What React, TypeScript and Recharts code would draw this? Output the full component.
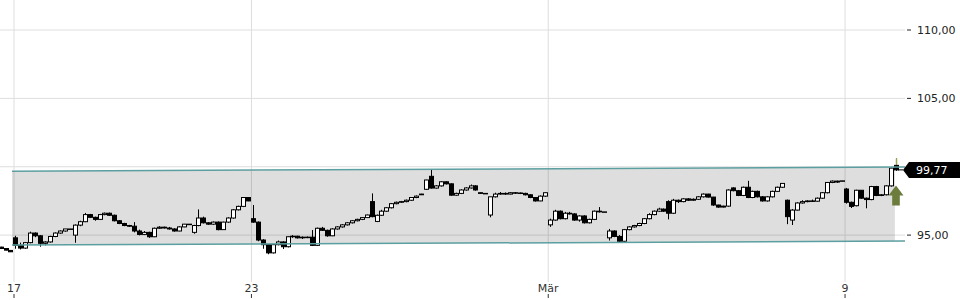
import React from 'react'
import {
  ComposedChart,
  Bar,
  Line,
  Area,
  XAxis,
  YAxis,
  CartesianGrid,
  ReferenceLine,
  ReferenceDot,
} from 'recharts'

// candles per trading day: [open, high, low, close], 12 slots a day
const feb16 = [
  [94.12, 94.15, 94.0, 94.02], [94.02, 94.05, 93.88, 93.9], [93.88, 93.88, 93.78, 93.78],
]
const feb17 = [
  [94.8, 94.95, 94.0, 94.25], [94.25, 94.45, 93.95, 94.05], [94.05, 94.5, 94.0, 94.45],
  [94.45, 95.25, 94.4, 95.15], [95.15, 95.2, 94.85, 94.95], [94.95, 95.0, 94.15, 94.4],
  [94.4, 94.55, 94.25, 94.5], [94.5, 94.95, 94.45, 94.9], [94.9, 95.2, 94.85, 95.15],
  [95.15, 95.35, 95.1, 95.3], [95.3, 95.45, 95.25, 95.45], [95.45, 95.45, 95.45, 95.45],
]
const feb18 = [
  [95.0, 95.78, 94.44, 95.73], [95.73, 96.05, 95.65, 95.98], [95.98, 96.62, 95.95, 96.5],
  [96.5, 96.55, 96.25, 96.3], [96.3, 96.35, 96.05, 96.15], [96.15, 96.55, 96.1, 96.5],
  [96.5, 96.65, 96.45, 96.6], [96.6, 96.65, 96.4, 96.45], [96.45, 96.5, 96.0, 96.05],
  [96.05, 96.1, 95.8, 95.85], [95.85, 95.9, 95.65, 95.7], [95.7, 95.75, 95.6, 95.65],
]
const feb19 = [
  [95.65, 95.95, 95.2, 95.3], [95.3, 95.4, 94.98, 95.05], [95.05, 95.3, 95.0, 95.2],
  [95.2, 95.25, 94.8, 94.88], [94.88, 95.55, 94.85, 95.5], [95.5, 95.65, 95.45, 95.58],
  [95.58, 95.62, 95.48, 95.52], [95.52, 95.6, 95.4, 95.45], [95.45, 95.5, 95.25, 95.3],
  [95.3, 95.65, 95.28, 95.6], [95.6, 95.82, 95.58, 95.8], [95.8, 95.8, 95.8, 95.8],
]
const feb20 = [
  [95.2, 95.75, 95.1, 95.7], [95.7, 96.88, 95.65, 96.25], [96.25, 96.35, 95.85, 95.9],
  [95.9, 95.95, 95.75, 95.8], [95.8, 96.0, 95.75, 95.95], [95.95, 96.0, 95.35, 95.4],
  [95.4, 95.98, 95.38, 95.95], [95.95, 96.3, 95.9, 96.25], [96.25, 96.9, 96.2, 96.85],
  [96.85, 97.15, 96.8, 97.1], [97.1, 97.78, 97.05, 97.75], [97.75, 97.78, 97.48, 97.5],
]
const feb23 = [
  [96.2, 97.2, 95.9, 95.95], [95.95, 96.0, 94.55, 94.64], [94.64, 94.7, 94.0, 94.3],
  [94.3, 94.35, 93.6, 93.7], [93.7, 94.35, 93.65, 94.3], [94.3, 94.6, 94.25, 94.5],
  [94.5, 94.55, 93.98, 94.15], [94.15, 94.9, 94.1, 94.88], [94.88, 95.0, 94.8, 94.92],
  [94.92, 94.95, 94.75, 94.8], [94.8, 94.9, 94.72, 94.85], [94.85, 94.9, 94.78, 94.82],
]
const feb24 = [
  [94.85, 95.37, 94.2, 94.25], [94.25, 95.55, 94.2, 95.5], [95.5, 95.6, 95.3, 95.35],
  [95.35, 95.4, 94.88, 94.95], [94.95, 95.5, 94.92, 95.45], [95.45, 95.65, 95.4, 95.6],
  [95.6, 95.8, 95.55, 95.75], [95.75, 95.95, 95.7, 95.9], [95.9, 96.1, 95.85, 96.05],
  [96.05, 96.2, 96.0, 96.15], [96.15, 96.3, 96.1, 96.28], [96.28, 96.5, 96.25, 96.47],
]
const feb25 = [
  [97.45, 98.05, 96.3, 96.35], [96.0, 96.5, 95.95, 96.45], [96.45, 96.85, 96.4, 96.75],
  [96.75, 97.05, 96.7, 97.0], [97.0, 97.35, 96.95, 97.3], [97.3, 97.45, 97.25, 97.4],
  [97.4, 97.5, 97.35, 97.45], [97.45, 97.6, 97.4, 97.55], [97.55, 97.78, 97.5, 97.75],
  [97.75, 97.9, 97.7, 97.85], [97.95, 98.02, 97.95, 98.0], [98.35, 99.05, 98.3, 99.03],
]
const feb26 = [
  [99.3, 99.81, 98.4, 98.44], [98.44, 98.65, 98.4, 98.6], [98.6, 98.95, 98.55, 98.9],
  [98.9, 98.92, 98.7, 98.75], [98.75, 98.78, 97.88, 97.92], [97.92, 98.1, 97.88, 98.05],
  [98.05, 98.35, 98.0, 98.3], [98.3, 98.5, 98.25, 98.45], [98.45, 98.7, 98.4, 98.6],
  [98.6, 98.65, 98.25, 98.3], [98.1, 98.1, 98.05, 98.05], [98.05, 98.05, 98.05, 98.05],
]
const feb27 = [
  [96.47, 97.8, 96.3, 97.8], [97.8, 98.1, 97.75, 98.0], [98.0, 98.15, 97.95, 98.05],
  [98.05, 98.12, 97.95, 98.0], [98.0, 98.15, 97.98, 98.1], [98.1, 98.15, 98.02, 98.08],
  [98.08, 98.12, 98.0, 98.05], [98.05, 98.1, 97.9, 97.95], [97.95, 97.98, 97.7, 97.75],
  [97.75, 97.78, 97.45, 97.5], [97.5, 97.9, 97.48, 97.85], [97.85, 98.12, 97.8, 98.1],
]
const mar02 = [
  [95.75, 96.2, 95.6, 96.1], [96.1, 96.85, 96.05, 96.75], [96.75, 96.8, 96.15, 96.2],
  [96.2, 96.7, 96.15, 96.6], [96.6, 96.7, 96.5, 96.55], [96.55, 96.6, 96.05, 96.1],
  [96.1, 96.45, 95.98, 96.4], [96.4, 96.45, 95.85, 95.9], [95.9, 96.2, 95.85, 96.15],
  [96.15, 96.8, 96.1, 96.75], [96.75, 97.05, 96.65, 96.7], [96.7, 96.7, 96.7, 96.7],
]
const mar03 = [
  [94.8, 95.45, 94.6, 95.3], [95.3, 95.35, 94.85, 94.9], [94.9, 95.0, 94.5, 94.55],
  [94.55, 95.45, 94.5, 95.4], [95.4, 95.65, 95.35, 95.6], [95.6, 95.75, 95.55, 95.7],
  [95.7, 95.9, 95.65, 95.85], [95.85, 96.25, 95.8, 96.2], [96.2, 96.6, 96.15, 96.5],
  [96.5, 96.8, 96.45, 96.75], [96.75, 97.0, 96.7, 96.9], [96.9, 96.95, 96.7, 96.75],
]
const mar04 = [
  [97.45, 97.55, 96.15, 96.6], [96.6, 97.65, 96.55, 97.55], [97.55, 97.6, 97.35, 97.45],
  [97.45, 97.7, 97.4, 97.65], [97.65, 97.7, 97.5, 97.55], [97.55, 97.68, 97.5, 97.62],
  [97.62, 97.85, 97.58, 97.8], [97.8, 98.05, 97.75, 98.0], [98.0, 98.02, 97.75, 97.78],
  [97.78, 97.8, 97.15, 97.2], [97.2, 97.22, 97.0, 97.05], [97.05, 97.15, 97.02, 97.12],
]
const mar05 = [
  [97.12, 98.35, 97.08, 98.3], [98.45, 98.5, 98.2, 98.25], [98.25, 98.3, 97.85, 97.9],
  [97.9, 98.55, 97.85, 98.5], [98.5, 98.97, 97.7, 97.75], [97.75, 98.25, 97.7, 98.2],
  [98.2, 98.25, 97.75, 97.8], [97.8, 97.85, 97.45, 97.5], [97.5, 97.85, 97.45, 97.8],
  [97.8, 98.25, 97.75, 98.2], [98.2, 98.55, 98.15, 98.5], [98.5, 98.8, 98.45, 98.78],
]
const mar06 = [
  [97.55, 97.6, 95.8, 96.35], [96.1, 96.9, 95.74, 96.83], [96.83, 97.4, 96.8, 97.35],
  [97.35, 97.55, 97.3, 97.45], [97.45, 97.55, 97.4, 97.5], [97.5, 97.6, 97.42, 97.48],
  [97.48, 97.75, 97.45, 97.7], [97.7, 98.15, 97.65, 98.1], [98.1, 98.88, 98.05, 98.85],
  [98.85, 99.0, 98.8, 98.95], [98.95, 98.98, 98.82, 98.88], [98.95, 98.97, 98.95, 98.97],
]
const mar09 = [
  [98.37, 98.45, 97.3, 97.4], [97.4, 97.45, 96.98, 97.1], [97.15, 98.32, 97.1, 98.28],
  [98.28, 98.3, 97.65, 97.7], [97.7, 97.75, 96.96, 97.6], [97.6, 98.6, 97.55, 98.55],
  [98.55, 98.6, 97.85, 97.9], [97.9, 98.0, 97.85, 97.95], [97.95, 98.65, 97.9, 98.6],
  [98.6, 99.95, 98.55, 99.9], [100.1, 100.6, 99.7, 99.77],
]

// trading day index (0 = 17 Feb) and first slot used that day
const days = [
  { day: -1, start: 9, candles: feb16 },
  { day: 0, start: 0, candles: feb17 },
  { day: 1, start: 0, candles: feb18 },
  { day: 2, start: 0, candles: feb19 },
  { day: 3, start: 0, candles: feb20 },
  { day: 4, start: 0, candles: feb23 },
  { day: 5, start: 0, candles: feb24 },
  { day: 6, start: 0, candles: feb25 },
  { day: 7, start: 0, candles: feb26 },
  { day: 8, start: 0, candles: feb27 },
  { day: 9, start: 0, candles: mar02 },
  { day: 10, start: 0, candles: mar03 },
  { day: 11, start: 0, candles: mar04 },
  { day: 12, start: 0, candles: mar05 },
  { day: 13, start: 0, candles: mar06 },
  { day: 14, start: 0, candles: mar09 },
]
const slotsPerDay = 12

const dayTicks = [0, 4, 9, 14]
const dayLabels = ['17', '23', 'Mär', '9']
const priceTicks = [95, 100, 105, 110]

// trend channel: [t, lower, upper]
const channelStart = [-0.034, 94.27, 99.67]
const channelFillEnd = [14.84, 94.55, 99.97]
const channelLineEnd = [15.01, 94.56, 99.98]

const lastPrice = 99.77
const signalPrice = 98.62

const candleRows = days.flatMap(d =>
  d.candles.map((c, i) => ({
    t: d.day + (d.start + i + 0.3) / slotsPerDay,
    range: [c[2], c[1]],
    open: c[0],
    close: c[3],
  }))
)
const lastT = candleRows[candleRows.length - 1].t

const data = [
  { t: channelStart[0], band: [channelStart[1], channelStart[2]], lower: channelStart[1], upper: channelStart[2] },
  ...candleRows,
  { t: channelFillEnd[0], band: [channelFillEnd[1], channelFillEnd[2]] },
  { t: channelLineEnd[0], lower: channelLineEnd[1], upper: channelLineEnd[2] },
].sort((a, b) => a.t - b.t)

const font = '"DejaVu Sans", sans-serif'

function Candle(props: any) {
  const { x, y, width, height, payload } = props
  if (!payload || !payload.range || x == null) return null
  const [lo, hi] = payload.range
  const top = Math.min(y, y + height)
  const h = Math.abs(height)
  const cx = Math.round(x + width / 2) + 0.5
  const toPx = (v: number) => (hi === lo ? top : top + ((hi - v) / (hi - lo)) * h)
  const o = toPx(payload.open)
  const c = toPx(payload.close)
  const up = payload.close >= payload.open
  const bTop = Math.min(o, c)
  const bH = Math.max(Math.abs(c - o), 0.5)
  const isLast = payload.t === lastT
  return (
    <g>
      <line x1={cx} x2={cx} y1={top} y2={top + h} stroke="#000" strokeWidth={1} />
      {isLast && <line x1={cx} x2={cx} y1={top} y2={bTop} stroke="#9aa64f" strokeWidth={1.5} />}
      <rect x={cx - 2} y={bTop} width={4} height={bH} fill={up ? '#fff' : '#000'} stroke="#000" strokeWidth={1} />
    </g>
  )
}

function DayTick(props: any) {
  const { x, y, payload } = props
  const label = dayLabels[dayTicks.indexOf(payload.value)]
  return (
    <g>
      <text x={x} y={y + 10} textAnchor="middle" fontSize={11} fontFamily={font} fill="#333">
        {label}
      </text>
      <line x1={x} x2={x} y1={y + 12} y2={y + 16} stroke="#333" />
    </g>
  )
}

function PriceTick(props: any) {
  const { x, y, payload } = props
  if (payload.value === 100) return null
  return (
    <g>
      <line x1={x + 2} x2={x + 6} y1={y} y2={y} stroke="#222" />
      <text x={x + 12} y={y} dy={4} fontSize={11} fontFamily={font} fill="#222">
        {payload.value.toFixed(2).replace('.', ',')}
      </text>
    </g>
  )
}

function PriceTag(props: any) {
  const { x1, y1, x2 } = props
  const tip = x2 - 2
  return (
    <g>
      <line x1={x1 + 2} x2={tip} y1={y1} y2={y1} stroke="#000" strokeWidth={1} />
      <polygon
        points={`${tip},${y1} ${tip + 6},${y1 - 8} 960,${y1 - 8} 960,${y1 + 8} ${tip + 6},${y1 + 8}`}
        fill="#000"
      />
      <text x={tip + 13} y={y1} dy={4} fontSize={11} fontFamily={font} fill="#fff">
        {lastPrice.toFixed(2).replace('.', ',')}
      </text>
    </g>
  )
}

function SignalArrow(props: any) {
  const { cx, cy } = props
  const pts = [
    [cx, cy], [cx + 7.5, cy + 10], [cx + 3.8, cy + 10], [cx + 3.8, cy + 20],
    [cx - 3.8, cy + 20], [cx - 3.8, cy + 10], [cx - 7.5, cy + 10],
  ]
  return <polygon points={pts.map(p => p.join(',')).join(' ')} fill="#6b7c3c" />
}

export default function App() {
  return (
    <div style={{ position: 'absolute', left: 0, top: 0, width: 960, height: 300, background: '#fff' }}>
      <ComposedChart width={960} height={300} data={data} margin={{ top: 0, right: 0, bottom: 0, left: 0 }}>
        <CartesianGrid stroke="#dedede" syncWithTicks />
        <XAxis
          dataKey="t"
          type="number"
          domain={[-0.236, 15.01]}
          ticks={dayTicks}
          interval={0}
          allowDataOverflow
          axisLine={false}
          tickLine={false}
          tickSize={0}
          tickMargin={0}
          height={18}
          tick={<DayTick />}
        />
        <YAxis
          orientation="right"
          type="number"
          domain={[91.57, 112.195]}
          ticks={priceTicks}
          interval={0}
          allowDataOverflow
          axisLine={false}
          tickLine={false}
          tickSize={0}
          tickMargin={0}
          width={55}
          tick={<PriceTick />}
        />
        <Area dataKey="band" fill="#000" fillOpacity={0.13} stroke="none" connectNulls isAnimationActive={false} />
        <Line dataKey="upper" stroke="#5c9fa0" strokeWidth={1.5} dot={false} connectNulls isAnimationActive={false} />
        <Line dataKey="lower" stroke="#5c9fa0" strokeWidth={1.5} dot={false} connectNulls isAnimationActive={false} />
        <Bar dataKey="range" barSize={3} shape={<Candle />} isAnimationActive={false} />
        <ReferenceLine
          segment={[{ x: lastT, y: lastPrice }, { x: 15.01, y: lastPrice }]}
          shape={(p: any) => <PriceTag {...p} />}
        />
        <ReferenceDot x={lastT} y={signalPrice} shape={(p: any) => <SignalArrow {...p} />} />
      </ComposedChart>
    </div>
  )
}
